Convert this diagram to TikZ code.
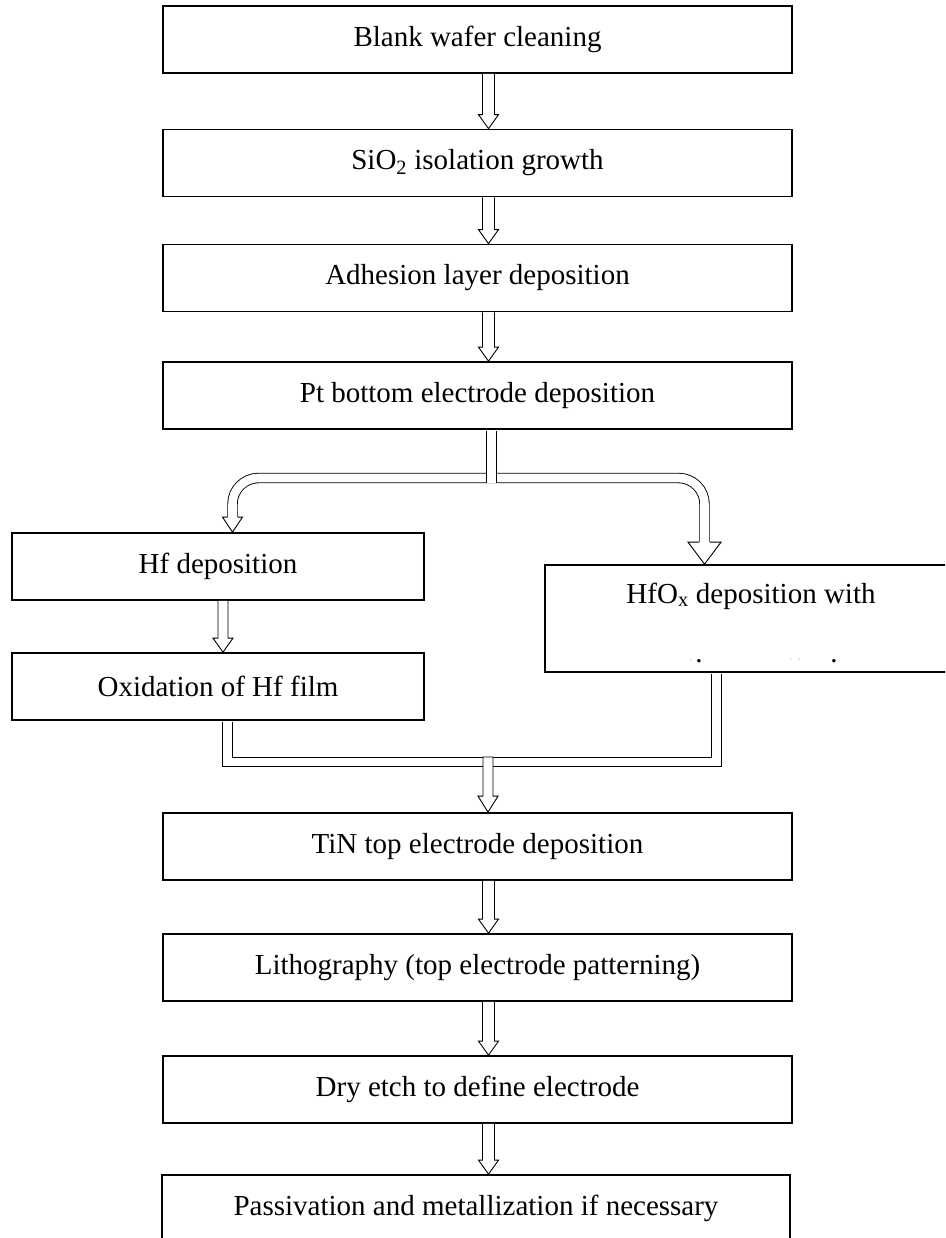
\documentclass[tikz,border=0pt]{standalone}
\usepackage{fontspec}
\setmainfont{Liberation Serif}
\usetikzlibrary{calc}

% hollow block arrow: #1 top point, #2 tip point, #3 shaft half width,
% #4 head half width, #5 head length
\newcommand{\blockarrow}[5]{%
  \draw[conn] ($#1+(-#3,0)$) -- ($#2+(-#3,-#5)$) -- ($#2+(-#4,-#5)$) -- #2
    -- ($#2+(#4,-#5)$) -- ($#2+(#3,-#5)$) -- ($#1+(#3,0)$);}
% open arrow head closing a double-line pipe
\newcommand{\pipehead}[4]{%
  \draw[conn] ($#1+(-#2,-#4)$) -- ($#1+(-#3,-#4)$) -- #1
    -- ($#1+(#3,-#4)$) -- ($#1+(#2,-#4)$);}

\begin{document}
\begin{tikzpicture}[x=1pt,y=-1pt,
  txt/.style={font=\fontsize{29}{34}\selectfont},
  box/.style={draw, line width=1.7pt, fill=white, txt, inner sep=0pt, align=center},
  wide/.style={box, minimum width=629pt, minimum height=67pt},
  side/.style={box, minimum width=412pt, minimum height=67pt},
  conn/.style={draw, line width=0.9pt, fill=white, line join=miter},
  pipe/.style={draw, line width=0.9pt, double=white, double distance=8.6pt, line join=miter}
]
\useasboundingbox (0,0) rectangle (945,1238);
\clip (0,0) rectangle (945,1238);
\fill[white] (0,0) rectangle (945,1238);

% process steps
\node[wide] (b1) at (477.5,39.5) {Blank wafer cleaning};
\node[wide] (b2) at (477.5,163) {SiO\textsubscript{2} isolation growth};
\node[wide] (b3) at (477.5,278) {Adhesion layer deposition};
\node[wide] (b4) at (477.5,395.5) {Pt bottom electrode deposition};
\node[side] (hf) at (218,566.5) {Hf deposition};
\node[side] (ox) at (218,686.5) {Oxidation of Hf film};
\node[box, minimum width=412pt, minimum height=107pt] (hfox) at (751,618.5) {};
\node[txt, anchor=base] (hfoxt) at (751,603) {HfO\textsubscript{x} deposition with};
\node[txt, anchor=base] (dot1) at (699,662) {.};
\node[txt, anchor=base] (dot2) at (834,662) {.};
\node[txt, anchor=base, text=black!20, scale=0.5] (dot3) at (691,660) {.};
\node[txt, anchor=base, text=black!20, scale=0.5] (dot4) at (795,660) {. .};
\node[wide] (tin) at (477.5,846.5) {TiN top electrode deposition};
\node[wide] (lit) at (477.5,967.5) {Lithography (top electrode patterning)};
\node[wide] (dry) at (477.5,1089.5) {Dry etch to define electrode};
\node[box, minimum width=628pt, minimum height=67pt] (pas) at (476,1208.5)
  {Passivation and metallization if necessary};

% connector guide positions
\coordinate (ax) at (488.5,0);
\coordinate (sx) at (491.5,0);
\coordinate (lx) at (232.5,0);
\coordinate (rx) at (704.5,0);
\coordinate (by) at (0,478);
\coordinate (hx) at (223,0);
\coordinate (mlx) at (227.5,0);
\coordinate (mrx) at (716.5,0);
\coordinate (my) at (0,762);
\coordinate (mx) at (488,0);

% main stack
\blockarrow{(b1.south -| ax)}{(b2.north -| ax)}{6}{10}{14}
\blockarrow{(b2.south -| ax)}{(b3.north -| ax)}{6}{10}{14}
\blockarrow{(b3.south -| ax)}{(b4.north -| ax)}{6}{10}{14}

% split into the two oxide routes
\draw[pipe, rounded corners=26pt] ($(hf.north -| lx)+(0,-15)$) -- (lx |- by)
  -- (rx |- by) -- ($(hfox.north -| rx)+(0,-22)$);
\draw[pipe] ($(b4.south -| sx)+(0,1)$) -- ($(sx |- by)+(0,4.6)$);
\pipehead{(hf.north -| lx)}{5}{10}{15}
\pipehead{(hfox.north -| rx)}{5.3}{16.5}{22}

% left route
\blockarrow{(hf.south -| hx)}{(ox.north -| hx)}{5}{10}{14}

% join of the two routes
\draw[pipe] ($(ox.south -| mlx)+(0,1)$) -- (mlx |- my) -- (mrx |- my)
  -- ($(hfox.south -| mrx)+(0,1)$);
\draw[conn] ($(mx |- my)+(-5,-5)$) -- ($(tin.north -| mx)+(-5,-16)$)
  -- ($(tin.north -| mx)+(-10,-16)$) -- (tin.north -| mx)
  -- ($(tin.north -| mx)+(10,-16)$) -- ($(tin.north -| mx)+(5,-16)$)
  -- ($(mx |- my)+(5,-5)$) -- cycle;

% lower stack
\blockarrow{(tin.south -| ax)}{(lit.north -| ax)}{6}{10}{14}
\blockarrow{(lit.south -| ax)}{(dry.north -| ax)}{6}{10}{14}
\blockarrow{(dry.south -| ax)}{(pas.north -| ax)}{6}{10}{14}
\end{tikzpicture}
\end{document}
